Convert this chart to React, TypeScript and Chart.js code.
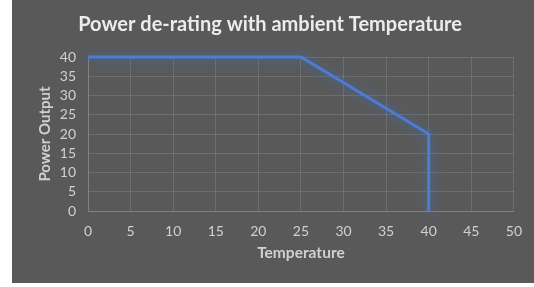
import React, { useEffect, useRef } from "react";
import { Chart, registerables } from "chart.js";

Chart.register(...registerables);

const temperatures = [0, 25, 40, 40];
const powerOutput = [40, 40, 20, 0];
const chartTitle = "Power de-rating with ambient Temperature";
const xTitle = "Temperature";
const yTitle = "Power Output";

const glowPlugin = {
  id: "glow",
  beforeDatasetsDraw(chart: any) {
    const ctx = chart.ctx;
    ctx.save();
    ctx.shadowColor = "rgba(68,114,196,0.85)";
    ctx.shadowBlur = 12;
    ctx.shadowOffsetX = 1;
    ctx.shadowOffsetY = 1;
  },
  afterDatasetsDraw(chart: any) {
    chart.ctx.restore();
  },
};

const titlePlugin = {
  id: "customTitle",
  afterDraw(chart: any) {
    const ctx = chart.ctx;
    ctx.save();
    ctx.fillStyle = "#ececec";
    ctx.font = "bold 20px Lato";
    ctx.textAlign = "center";
    ctx.textBaseline = "middle";
    ctx.fillText(chartTitle, 258, 25);
    ctx.restore();
  },
};

export default function App() {
  const ref = useRef<HTMLCanvasElement>(null);
  useEffect(() => {
    document.body.style.margin = "0";
    const gridColor = "rgba(255,255,255,0.13)";
    const tickColor = "#d0d0d0";
    const chart = new Chart(ref.current!, {
      type: "line",
      data: {
        datasets: [
          {
            data: temperatures.map((t, i) => ({ x: t, y: powerOutput[i] })),
            borderColor: "#4a7dd6",
            borderWidth: 3,
            pointRadius: 0,
            tension: 0,
            fill: false,
            clip: false as any,
          },
        ],
      },
      options: {
        animation: false,
        responsive: false,
        maintainAspectRatio: false,
        layout: { padding: { left: 0, right: 20, top: 57, bottom: 0 } },
        plugins: {
          legend: { display: false },
          tooltip: { enabled: false },
          title: { display: false },
        },
        scales: {
          x: {
            type: "linear",
            min: 0,
            max: 50,
            ticks: {
              stepSize: 5,
              autoSkip: false,
              color: tickColor,
              font: { family: "Lato", size: 14 },
              padding: 12,
              maxRotation: 0,
            },
            grid: { color: gridColor, drawTicks: false, lineWidth: 1 },
            border: { color: gridColor },
            title: {
              display: true,
              text: xTitle,
              color: tickColor,
              font: { family: "Lato", size: 15.5, weight: "bold" },
              padding: { top: 0, bottom: 21 },
            },
            afterFit(scale: any) {
              scale.height = 72;
            },
          },
          y: {
            min: 0,
            max: 40,
            ticks: {
              stepSize: 5,
              autoSkip: false,
              color: tickColor,
              font: { family: "Lato", size: 14 },
              padding: 12,
            },
            grid: { color: gridColor, drawTicks: false, lineWidth: 1 },
            border: { color: gridColor },
            title: {
              display: true,
              text: yTitle,
              color: tickColor,
              font: { family: "Lato", size: 15, weight: "bold" },
              padding: { top: 24, bottom: 0 },
            },
            afterFit(scale: any) {
              scale.width = 76;
            },
          },
        },
      },
      plugins: [glowPlugin, titlePlugin],
    });
    return () => chart.destroy();
  }, []);
  return (
    <div style={{ position: "relative", width: 534, height: 287, background: "#ffffff" }}>
      <canvas
        ref={ref}
        width={522}
        height={283}
        style={{ position: "absolute", left: 12, top: 0, width: 522, height: 283, background: "#595959" }}
      />
    </div>
  );
}
